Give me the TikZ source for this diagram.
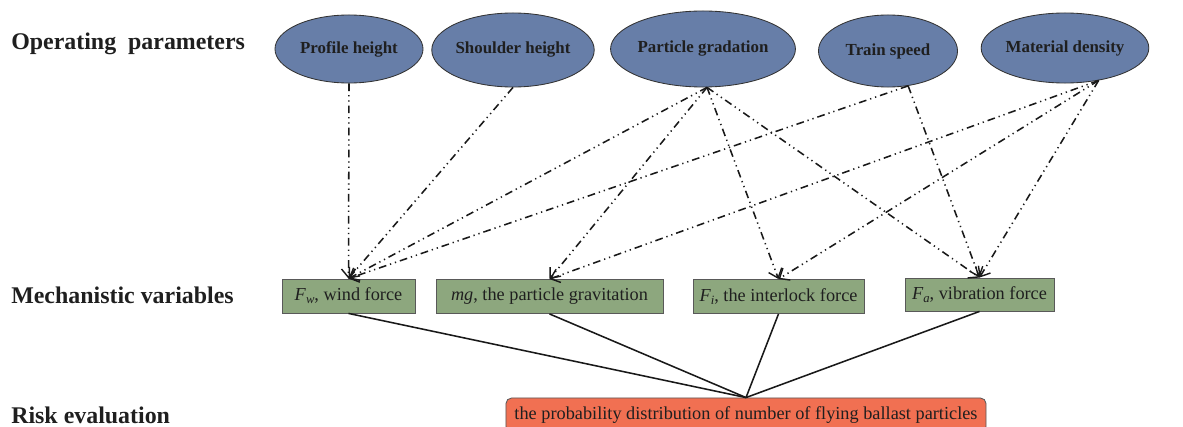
\documentclass[tikz,border=0pt]{standalone}
\usepackage{fontspec}
\setmainfont{Liberation Serif}
\usetikzlibrary{shapes.geometric,arrows.meta}
\definecolor{ellblue}{RGB}{103,126,168}
\definecolor{boxgreen}{RGB}{141,167,126}
\definecolor{riskred}{RGB}{241,112,82}
\newcommand{\sym}[2]{\textit{#1}\raisebox{-0.35ex}{\fontsize{9}{10}\selectfont\textit{#2}}}
\begin{document}
\begin{tikzpicture}[x=0.025cm,y=-0.025cm,
  param/.style={ellipse,draw=black!80,line width=0.6pt,fill=ellblue,inner sep=0pt,
    font=\fontsize{12}{14}\selectfont\bfseries,text=black!88},
  mech/.style={rectangle,draw=black!65,line width=0.6pt,fill=boxgreen,inner sep=0pt,
    minimum height=0.85cm,font=\fontsize{13}{15}\selectfont,text=black!88},
  risk/.style={rectangle,rounded corners=4pt,draw=black!65,line width=0.6pt,fill=riskred,
    inner sep=0pt,minimum width=12cm,minimum height=0.85cm,font=\fontsize{13}{15}\selectfont,text=black!88},
  rowlabel/.style={anchor=base west,inner sep=0pt,font=\fontsize{17}{20}\selectfont\bfseries,text=black!88},
  infl/.style={line width=1.1pt,black!90,dash pattern=on 5.5pt off 2.8pt on 0.9pt off 2.8pt on 0.9pt off 2.8pt,
    -{Straight Barb[length=6pt,width=10pt,line width=1pt]}},
  agg/.style={line width=1.1pt,black!90}]
\useasboundingbox (0,0) rectangle (1183,427);

% row labels
\node[rowlabel] (lop) at (11,50) {Operating\ \ parameters};
\node[rowlabel] (lmv) at (11,303) {Mechanistic variables};
\node[rowlabel] (lre) at (11,423) {Risk evaluation};

% operating parameters
\node[param,minimum width=3.7cm,minimum height=1.7cm] (ph) at (349,49) {Profile height};
\node[param,minimum width=3.725cm,minimum height=1.85cm] (sh) at (513,50) {Shoulder height};
\node[param,minimum width=3.8cm,minimum height=1.9cm] (pg) at (703,49) {Particle gradation};
\node[param,minimum width=3.475cm,minimum height=1.8cm] (ts) at (888,51) {Train speed};
\node[param,minimum width=3.825cm,minimum height=1.75cm] (md) at (1065,48) {Material density};

% mechanistic variables
\node[mech,minimum width=3.325cm] (fw) at (348.5,296) {\sym{F}{w}, wind force};
\node[mech,minimum width=5.675cm] (mg) at (549.5,296.5) {\textit{mg}, the particle gravitation};
\node[mech,minimum width=4.275cm] (fi) at (778.5,296.5) {\sym{F}{i}, the interlock force};
\node[mech,minimum width=3.725cm,minimum height=0.825cm] (fa) at (979.5,294.5) {\sym{F}{a}, vibration force};

% risk evaluation
\node[risk] (re) at (746,415) {the probability distribution of number of flying ballast particles};

% influences
\draw[infl] (ph.south) -- (fw.north);
\draw[infl] (sh.south) -- (fw.north);
\draw[infl] (pg.-84) -- (fw.north);
\draw[infl] (pg.-84) -- (mg.north);
\draw[infl] (pg.-84) -- (fi.north);
\draw[infl] (pg.-84) -- (fa.north);
\draw[infl] (ts.-60) -- (fw.north);
\draw[infl] (ts.-60) -- (fa.north);
\draw[infl] (md.-44) -- (mg.north);
\draw[infl] (md.-44) -- (fi.north);
\draw[infl] (md.-44) -- (fa.north);

% aggregation
\draw[agg] (fw.south) -- (re.north);
\draw[agg] (mg.south) -- (re.north);
\draw[agg] (fi.south) -- (re.north);
\draw[agg] (fa.south) -- (re.north);
\end{tikzpicture}
\end{document}
